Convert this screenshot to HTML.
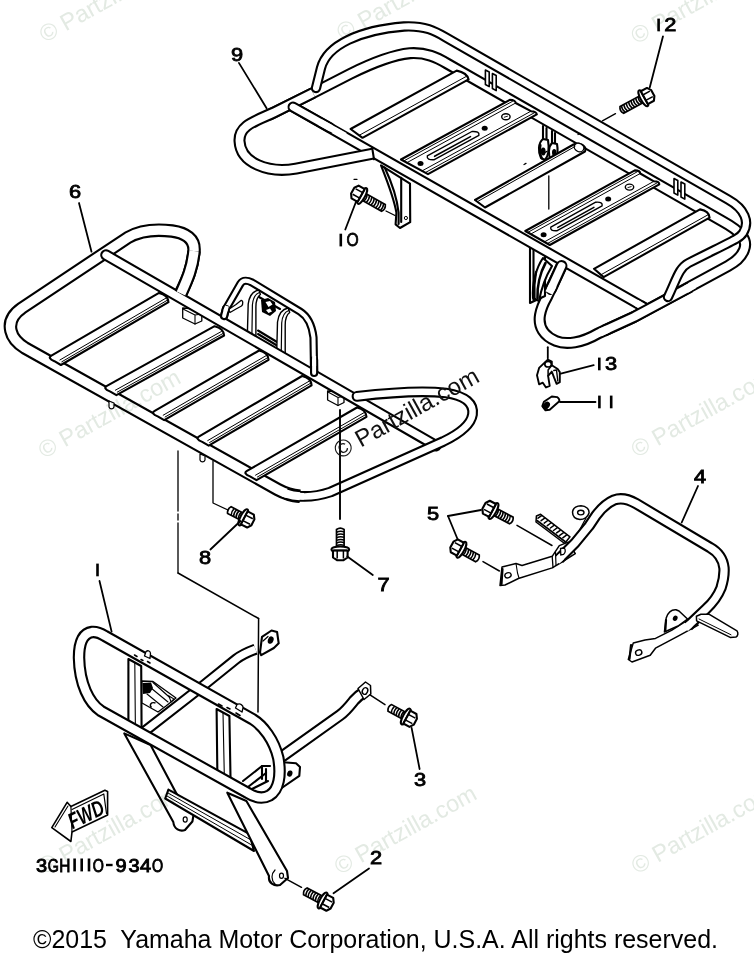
<!DOCTYPE html>
<html><head><meta charset="utf-8"><title>Carrier</title>
<style>
html,body{margin:0;padding:0;background:#fff;}
body{width:754px;height:957px;overflow:hidden;font-family:"Liberation Sans",sans-serif;}
svg{display:block;position:absolute;left:0;top:0;}
text{font-family:"Liberation Sans",sans-serif;}
</style></head><body>
<svg width="754" height="957" viewBox="0 0 754 957">
<rect width="754" height="957" fill="#fff"/>
<path d="M 270,114.5 L 313,93 L 350,74 C 372,63 392,55 410,53.2 C 426,52.2 437,57.5 447,63.5 L 722,221 C 742,232 748,240 744,250 C 741,258 735,262 728,266 L 634,317 L 598,333.5 C 582,343 566,345 556,341 C 544,336 538,327 540,315 C 541,309 543,304 547,297 L 561.5,266" fill="none" stroke="#000" stroke-width="12" stroke-linecap="round" stroke-linejoin="round"/>
<path d="M 270,114.5 L 313,93 L 350,74 C 372,63 392,55 410,53.2 C 426,52.2 437,57.5 447,63.5 L 722,221 C 742,232 748,240 744,250 C 741,258 735,262 728,266 L 634,317 L 598,333.5 C 582,343 566,345 556,341 C 544,336 538,327 540,315 C 541,309 543,304 547,297 L 561.5,266" fill="none" stroke="#fff" stroke-width="7.8" stroke-linecap="round" stroke-linejoin="round"/>
<path d="M 381,165.3 C 388,183 394,198 396.4,212.7 L 395.6,224.4 L 400,228 L 410.2,222.2 L 410,183.6 Z" fill="#fff" stroke="#000" stroke-width="2.1" stroke-linejoin="round"/>
<path d="M 384.7,167.5 C 392,183 397,198 398.6,212.7 L 398.6,224" fill="none" stroke="#000" stroke-width="2.1" stroke-linecap="round" stroke-linejoin="round" />
<path d="M 401.2,177.7 L 401.2,222" fill="none" stroke="#000" stroke-width="2.1" stroke-linecap="round" stroke-linejoin="round" />
<circle cx="405.9" cy="218" r="1.6" fill="none" stroke="#000" stroke-width="1"/>
<path d="M 530,246 L 530,303 L 545,296 L 545,255 Z" fill="#fff" stroke="#000" stroke-width="2.1" stroke-linejoin="round"/>
<path d="M 533.5,248 L 533.5,300" fill="none" stroke="#000" stroke-width="2.1" stroke-linecap="round" stroke-linejoin="round" />
<path d="M 543,258 C 536,268 532,284 533,298 L 539,301 C 541,290 546,276 552,266 Z" fill="#fff" stroke="#000" stroke-width="2.1" stroke-linejoin="round"/>
<path d="M 545.5,263 C 540,273 537,287 537.5,298" fill="none" stroke="#000" stroke-width="2.6" stroke-linecap="round" stroke-linejoin="round" />
<path d="M 536,272 C 534.5,280 534,290 534.5,298" fill="none" stroke="#000" stroke-width="2.2" stroke-linecap="round" stroke-linejoin="round" />
<path d="M 543,126 L 543,140" fill="none" stroke="#000" stroke-width="2.1" stroke-linecap="round" stroke-linejoin="round" />
<path d="M 546.5,128 L 546.5,140" fill="none" stroke="#000" stroke-width="2.1" stroke-linecap="round" stroke-linejoin="round" />
<path d="M 552,131 L 552,144" fill="none" stroke="#000" stroke-width="2.1" stroke-linecap="round" stroke-linejoin="round" />
<path d="M 555,133 L 555,144" fill="none" stroke="#000" stroke-width="2.1" stroke-linecap="round" stroke-linejoin="round" />
<path d="M 543,139 C 538,143 538,152 541,158 L 545,160 C 549,155 549,146 548,140 Z" fill="#fff" stroke="#000" stroke-width="2.1" stroke-linejoin="round"/>
<path d="M 552,143 C 548,147 548,155 551,160 L 555,161 C 558,157 558,149 557,144 Z" fill="#fff" stroke="#000" stroke-width="2.1" stroke-linejoin="round"/>
<ellipse cx="543.2" cy="151.5" rx="2.4" ry="4" fill="#000"/>
<ellipse cx="554.2" cy="152.5" rx="2.2" ry="3.6" fill="#000"/>
<path d="M 540.5,145 C 539.5,150 540,155 542,158.5" fill="none" stroke="#000" stroke-width="2.2" stroke-linecap="round" stroke-linejoin="round" />
<path d="M 485.4,70 L 485.4,84.5 L 489.2,86.6 L 489.2,72 Z" fill="#fff" stroke="#000" stroke-width="1.6" stroke-linejoin="round"/>
<path d="M 492.4,73.5 L 492.4,88.5 L 496.2,90.6 L 496.2,75.5 Z" fill="#fff" stroke="#000" stroke-width="1.6" stroke-linejoin="round"/>
<path d="M 674,178.5 L 674,193.0 L 677.8,195.1 L 677.8,180.5 Z" fill="#fff" stroke="#000" stroke-width="1.6" stroke-linejoin="round"/>
<path d="M 681,182.0 L 681,197.0 L 684.8,199.1 L 684.8,184.0 Z" fill="#fff" stroke="#000" stroke-width="1.6" stroke-linejoin="round"/>
<path d="M 456.7,70.6 L 350.6,129.0 L 362.5,137.8 L 468.6,79.4 Q 467.0,72.6 456.7,70.6 Z" fill="#fff" stroke="#000" stroke-width="2.1" stroke-linejoin="round"/>
<path d="M 466.3,76.4 L 359.2,135.3" fill="none" stroke="#000" stroke-width="1.0" stroke-linecap="round" stroke-linejoin="round" />
<path d="M 509.8,99.8 L 401.0,159.5 L 428.0,174.1 L 536.8,114.4 Q 536.5,111.4 530.9,111.2 L 515.7,103.0 Q 515.4,100.0 509.8,99.8 Z" fill="#fff" stroke="#000" stroke-width="2.1" stroke-linejoin="round"/>
<path d="M 512.5,101.3 L 403.7,161.0" fill="none" stroke="#000" stroke-width="1.0" stroke-linecap="round" stroke-linejoin="round" />
<path d="M 515.7,103.0 L 406.9,162.7" fill="none" stroke="#000" stroke-width="1.0" stroke-linecap="round" stroke-linejoin="round" />
<path d="M 530.9,111.2 L 422.1,170.9" fill="none" stroke="#000" stroke-width="1.0" stroke-linecap="round" stroke-linejoin="round" />
<path d="M 534.1,112.9 L 425.3,172.6" fill="none" stroke="#000" stroke-width="1.0" stroke-linecap="round" stroke-linejoin="round" />
<path d="M 427.3,155.9 L 471.9,131.5 Q 479.8,131.0 478.9,135.3 L 434.3,159.7 Q 426.4,160.3 427.3,155.9 Z" fill="#fff" stroke="#000" stroke-width="1.4" stroke-linejoin="round"/>
<path d="M 434.6,156.3 L 470.5,136.6" fill="none" stroke="#000" stroke-width="1.6" stroke-linecap="round" stroke-linejoin="round" />
<ellipse cx="420.5" cy="163.5" rx="3" ry="2.5" fill="#000"/>
<ellipse cx="484.7" cy="128.3" rx="3" ry="2.5" fill="#000"/>
<ellipse cx="505.9" cy="116.7" rx="4.2" ry="3" fill="#fff" stroke="#000" stroke-width="1.4"/>
<path d="M 503.9,117.3 L 507.9,116.1" stroke="#000" stroke-width="0.9"/>
<path d="M 573.5,144.5 L 475,200 L 485,207.5 L 585,151.5 C 587,146 580,141.5 573.5,144.5 Z" fill="#fff" stroke="#000" stroke-width="2.1" stroke-linejoin="round"/>
<ellipse cx="579" cy="147.5" rx="5" ry="4" fill="#fff" stroke="#000" stroke-width="1.3" transform="rotate(30 579 147.5)"/>
<path d="M 575,146.5 L 478.5,201" fill="none" stroke="#000" stroke-width="1" stroke-linecap="round" stroke-linejoin="round" />
<path d="M 634.8,170.4 L 525.3,231.0 L 549.8,245.0 L 659.3,184.4 Q 659.2,181.4 653.9,181.3 L 640.2,173.5 Q 640.1,170.5 634.8,170.4 Z" fill="#fff" stroke="#000" stroke-width="2.1" stroke-linejoin="round"/>
<path d="M 637.2,171.8 L 527.8,232.4" fill="none" stroke="#000" stroke-width="1.0" stroke-linecap="round" stroke-linejoin="round" />
<path d="M 640.2,173.5 L 530.7,234.1" fill="none" stroke="#000" stroke-width="1.0" stroke-linecap="round" stroke-linejoin="round" />
<path d="M 653.9,181.3 L 544.4,241.9" fill="none" stroke="#000" stroke-width="1.0" stroke-linecap="round" stroke-linejoin="round" />
<path d="M 656.8,183.0 L 547.3,243.6" fill="none" stroke="#000" stroke-width="1.0" stroke-linecap="round" stroke-linejoin="round" />
<path d="M 550.8,227.1 L 595.7,202.2 Q 603.2,201.6 602.1,205.9 L 557.2,230.7 Q 549.6,231.3 550.8,227.1 Z" fill="#fff" stroke="#000" stroke-width="1.4" stroke-linejoin="round"/>
<path d="M 557.8,227.4 L 593.9,207.4" fill="none" stroke="#000" stroke-width="1.6" stroke-linecap="round" stroke-linejoin="round" />
<ellipse cx="543.6" cy="234.7" rx="3" ry="2.5" fill="#000"/>
<ellipse cx="608.2" cy="198.9" rx="3" ry="2.5" fill="#000"/>
<ellipse cx="629.5" cy="187.1" rx="4.2" ry="3" fill="#fff" stroke="#000" stroke-width="1.4"/>
<path d="M 627.5,187.7 L 631.5,186.5" stroke="#000" stroke-width="0.9"/>
<path d="M 700.0,209.4 L 594.0,268.8 L 603.6,277.1 L 709.6,217.7 Q 709.2,211.1 700.0,209.4 Z" fill="#fff" stroke="#000" stroke-width="2.1" stroke-linejoin="round"/>
<path d="M 708.0,214.8 L 600.9,274.8" fill="none" stroke="#000" stroke-width="1.0" stroke-linecap="round" stroke-linejoin="round" />
<path d="M 293,107 L 646,308.5" fill="none" stroke="#000" stroke-width="11" stroke-linecap="round" stroke-linejoin="round"/>
<path d="M 293,107 L 646,308.5" fill="none" stroke="#fff" stroke-width="6.8" stroke-linecap="round" stroke-linejoin="round"/>
<path d="M 640,305.1 L 651,311.4" fill="none" stroke="#000" stroke-width="11" stroke-linecap="butt" stroke-linejoin="round"/>
<path d="M 640,305.1 L 651,311.4" fill="none" stroke="#fff" stroke-width="6.8" stroke-linecap="butt" stroke-linejoin="round"/>
<path d="M 636,302.8 L 644,307.4" fill="none" stroke="#fff" stroke-width="6.8"/>
<path d="M 690,287 L 634,317 L 604,330.8" fill="none" stroke="#000" stroke-width="12" stroke-linecap="butt" stroke-linejoin="round"/>
<path d="M 690,287 L 634,317 L 604,330.8" fill="none" stroke="#fff" stroke-width="7.8" stroke-linecap="butt" stroke-linejoin="round"/>
<path d="M 694,284.9 L 686,289.2" fill="none" stroke="#fff" stroke-width="7.8"/>
<path d="M 608,329 L 600,332.6" fill="none" stroke="#fff" stroke-width="7.8"/>
<path d="M 373,153.6 L 296,168.6 C 268,173.5 240.5,163 239.5,141 C 238.8,125 256,121 275,112 L 313,93" fill="none" stroke="#000" stroke-width="12" stroke-linecap="butt" stroke-linejoin="round"/>
<path d="M 373,153.6 L 296,168.6 C 268,173.5 240.5,163 239.5,141 C 238.8,125 256,121 275,112 L 313,93" fill="none" stroke="#fff" stroke-width="7.8" stroke-linecap="butt" stroke-linejoin="round"/>
<path d="M 372.2,147.9 L 374,159.3" fill="none" stroke="#000" stroke-width="2.1" stroke-linecap="round" stroke-linejoin="round" />
<path d="M 293,107 L 330,127.7" fill="none" stroke="#000" stroke-width="11" stroke-linecap="round" stroke-linejoin="round"/>
<path d="M 293,107 L 330,127.7" fill="none" stroke="#fff" stroke-width="6.8" stroke-linecap="round" stroke-linejoin="round"/>
<path d="M 320,122.1 L 345,136" fill="none" stroke="#fff" stroke-width="6.8" />
<path d="M 316,88 L 321,68 C 327,45 360,30 404,26.5 C 425,25.5 435,31 446,37.5 L 728,199.5 C 745,209 750,222 743,233 C 740,238 736,239 688.5,263 C 679,268 677,278 668,297" fill="none" stroke="#000" stroke-width="10.3" stroke-linecap="round" stroke-linejoin="round"/>
<path d="M 316,88 L 321,68 C 327,45 360,30 404,26.5 C 425,25.5 435,31 446,37.5 L 728,199.5 C 745,209 750,222 743,233 C 740,238 736,239 688.5,263 C 679,268 677,278 668,297" fill="none" stroke="#fff" stroke-width="6.1000000000000005" stroke-linecap="round" stroke-linejoin="round"/>
<path d="M 551,289 L 561.5,266" fill="none" stroke="#000" stroke-width="12" stroke-linecap="round" stroke-linejoin="round"/>
<path d="M 551,289 L 561.5,266" fill="none" stroke="#fff" stroke-width="7.8" stroke-linecap="round" stroke-linejoin="round"/>
<path d="M 549,293 L 553,285" fill="none" stroke="#fff" stroke-width="7.8" />
<path d="M 548.8,176 L 548.8,209" fill="none" stroke="#000" stroke-width="1.3" stroke-linecap="round" stroke-linejoin="round" />
<path d="M 181,292.5 C 187,280 192.5,268 194,251 C 195,239 186,233 172,231 C 156,229 140,230.5 128,237.5 L 22,308 C 12,315 9,323 11,331 C 12.5,338 17,343 25,348 L 277.7,489.5 C 285,493.5 292,495.5 300,496.3" fill="none" stroke="#000" stroke-width="13.5" stroke-linecap="butt" stroke-linejoin="round"/>
<path d="M 181,292.5 C 187,280 192.5,268 194,251 C 195,239 186,233 172,231 C 156,229 140,230.5 128,237.5 L 22,308 C 12,315 9,323 11,331 C 12.5,338 17,343 25,348 L 277.7,489.5 C 285,493.5 292,495.5 300,496.3" fill="none" stroke="#fff" stroke-width="9.3" stroke-linecap="butt" stroke-linejoin="round"/>
<path d="M 109,401 L 109,407 C 110,409.5 113,409.5 114,407 L 114,403 Z" fill="#fff" stroke="#000" stroke-width="1.2" stroke-linejoin="round"/>
<path d="M 200,454 L 200,460 C 201,462.5 204,462.5 205,460 L 205,456 Z" fill="#fff" stroke="#000" stroke-width="1.2" stroke-linejoin="round"/>
<path d="M 159.0,292.9 L 51.4,355.7 Q 47.1,358.2 54.4,361.2 L 60.9,365.0 L 168.5,302.2 Q 168.1,295.0 159.0,292.9 Z" fill="#fff" stroke="#000" stroke-width="2.1" stroke-linejoin="round"/>
<path d="M 165.8,298.2 L 59.9,360.0" fill="none" stroke="#000" stroke-width="1.0" stroke-linecap="round" stroke-linejoin="round" />
<path d="M 167.7,300.0 L 61.8,361.8" fill="none" stroke="#000" stroke-width="1.0" stroke-linecap="round" stroke-linejoin="round" />
<path d="M 214.6,326.2 L 106.9,385.9 Q 102.5,388.3 109.9,391.4 L 116.4,395.2 L 224.1,335.5 Q 223.7,328.4 214.6,326.2 Z" fill="#fff" stroke="#000" stroke-width="2.1" stroke-linejoin="round"/>
<path d="M 221.4,331.5 L 115.4,390.2" fill="none" stroke="#000" stroke-width="1.0" stroke-linecap="round" stroke-linejoin="round" />
<path d="M 223.3,333.3 L 117.3,392.1" fill="none" stroke="#000" stroke-width="1.0" stroke-linecap="round" stroke-linejoin="round" />
<path d="M 259.1,350.5 L 154.7,410.9 Q 150.4,413.4 157.7,416.4 L 164.2,420.2 L 268.6,359.8 Q 268.2,352.6 259.1,350.5 Z" fill="#fff" stroke="#000" stroke-width="2.1" stroke-linejoin="round"/>
<path d="M 265.9,355.8 L 163.2,415.2" fill="none" stroke="#000" stroke-width="1.0" stroke-linecap="round" stroke-linejoin="round" />
<path d="M 267.8,357.6 L 165.1,417.0" fill="none" stroke="#000" stroke-width="1.0" stroke-linecap="round" stroke-linejoin="round" />
<path d="M 302.1,376.0 L 199.2,436.4 Q 194.9,438.9 202.2,441.9 L 208.7,445.7 L 311.6,385.3 Q 311.2,378.1 302.1,376.0 Z" fill="#fff" stroke="#000" stroke-width="2.1" stroke-linejoin="round"/>
<path d="M 308.9,381.3 L 207.7,440.6" fill="none" stroke="#000" stroke-width="1.0" stroke-linecap="round" stroke-linejoin="round" />
<path d="M 310.8,383.1 L 209.6,442.5" fill="none" stroke="#000" stroke-width="1.0" stroke-linecap="round" stroke-linejoin="round" />
<path d="M 357.0,407.5 L 247.0,470.9 Q 242.7,473.4 250.0,476.4 L 256.5,480.2 L 366.5,416.8 Q 366.1,409.7 357.0,407.5 Z" fill="#fff" stroke="#000" stroke-width="2.1" stroke-linejoin="round"/>
<path d="M 363.8,412.8 L 255.5,475.2" fill="none" stroke="#000" stroke-width="1.0" stroke-linecap="round" stroke-linejoin="round" />
<path d="M 365.7,414.6 L 257.4,477.0" fill="none" stroke="#000" stroke-width="1.0" stroke-linecap="round" stroke-linejoin="round" />
<path d="M 182.7,308 L 182.7,318 L 195,324 L 201.8,321 L 201.8,314 L 190,308.5 Z" fill="#fff" stroke="#000" stroke-width="1.3" stroke-linejoin="round"/>
<path d="M 195,315 L 195,324 M 195,315 L 201.8,314 M 195,315 L 183,309" fill="none" stroke="#000" stroke-width="1.1" stroke-linecap="round" stroke-linejoin="round" />
<path d="M 327.6,391 L 327.6,400 L 338,405.5 L 344,402.5 L 344,396 L 334,391.5 Z" fill="#fff" stroke="#000" stroke-width="1.3" stroke-linejoin="round"/>
<path d="M 338,397.5 L 338,405.5 M 338,397.5 L 344,396 M 338,397.5 L 328,392" fill="none" stroke="#000" stroke-width="1.1" stroke-linecap="round" stroke-linejoin="round" />
<path d="M 224.1,316 L 225.9,309 L 240.5,283.6 C 243,279.5 248,280.5 252,282.5 L 300,311.6 C 307,316 312,325 313.5,337.4 L 314.1,373" fill="none" stroke="#000" stroke-width="8.2" stroke-linecap="round" stroke-linejoin="round"/>
<path d="M 224.1,316 L 225.9,309 L 240.5,283.6 C 243,279.5 248,280.5 252,282.5 L 300,311.6 C 307,316 312,325 313.5,337.4 L 314.1,373" fill="none" stroke="#fff" stroke-width="3.999999999999999" stroke-linecap="round" stroke-linejoin="round"/>
<path d="M 258,334 L 277,345.5" fill="none" stroke="#000" stroke-width="2.1" stroke-linecap="round" stroke-linejoin="round" />
<path d="M 258,330.5 L 277,342" fill="none" stroke="#000" stroke-width="2.1" stroke-linecap="round" stroke-linejoin="round" />
<path d="M 259,297 L 280,309" fill="none" stroke="#000" stroke-width="2.1" stroke-linecap="round" stroke-linejoin="round" />
<path d="M 228.5,309.5 L 236,304.5 L 241,300.5 C 243,300 243.5,304 241.5,306 L 236,309 L 230,312.5 Z" fill="#fff" stroke="#000" stroke-width="1.3" stroke-linejoin="round"/>
<path d="M 247.4,333 L 248.20000000000002,304 C 249.4,295 253.4,291 258.9,290 L 260.4,294.5 C 256.9,297 255.9,301 255.9,307 L 255.9,338 Z" fill="#fff" stroke="#000" stroke-width="1.4" stroke-linejoin="round"/>
<path d="M 251.9,335.5 L 252.4,305 C 252.9,298 255.4,294 259.4,292.5" fill="none" stroke="#000" stroke-width="1.2" stroke-linecap="round" stroke-linejoin="round" />
<path d="M 276.7,353 L 277.5,322 C 278.7,313 282.7,309 288.2,308 L 289.7,312.5 C 286.2,315 285.2,319 285.2,325 L 285.2,358 Z" fill="#fff" stroke="#000" stroke-width="1.4" stroke-linejoin="round"/>
<path d="M 281.2,355.5 L 281.7,323 C 282.2,316 284.7,312 288.7,310.5" fill="none" stroke="#000" stroke-width="1.2" stroke-linecap="round" stroke-linejoin="round" />
<path d="M 261,300 L 268,298 L 275,302 L 276,311 L 270,316 L 262,312 Z" fill="#000"/>
<path d="M 265.5,302 L 270,301 L 272.5,304.5 L 268.5,307 Z M 266,310 L 270,308.5 L 272,311.5 L 268.5,313 Z" fill="#fff"/>
<path d="M 106,255 L 436,445.7" fill="none" stroke="#000" stroke-width="11.5" stroke-linecap="round" stroke-linejoin="round"/>
<path d="M 106,255 L 436,445.7" fill="none" stroke="#fff" stroke-width="7.3" stroke-linecap="round" stroke-linejoin="round"/>
<path d="M 300,496.3 C 310,497 320,495.5 330.5,492 L 443.2,441.5 C 462,432.5 471,424 472.5,414.5 C 474,404 466,396 446,393 C 420,390 390,392.5 357,396.4" fill="none" stroke="#000" stroke-width="10.8" stroke-linecap="round" stroke-linejoin="round"/>
<path d="M 300,496.3 C 310,497 320,495.5 330.5,492 L 443.2,441.5 C 462,432.5 471,424 472.5,414.5 C 474,404 466,396 446,393 C 420,390 390,392.5 357,396.4" fill="none" stroke="#fff" stroke-width="6.6000000000000005" stroke-linecap="round" stroke-linejoin="round"/>
<path d="M 286,493.6 C 291,495.2 295,496 300,496.3" fill="none" stroke="#000" stroke-width="12.2" stroke-linecap="butt" stroke-linejoin="round"/>
<path d="M 286,493.6 C 291,495.2 295,496 300,496.3" fill="none" stroke="#fff" stroke-width="7.999999999999999" stroke-linecap="butt" stroke-linejoin="round"/>
<path d="M 283,492.6 L 288,494.3" fill="none" stroke="#fff" stroke-width="8" />
<path d="M 297,496.1 L 304,496.2" fill="none" stroke="#fff" stroke-width="6.6" />
<path d="M 181,293.5 C 187,280 192.5,268 194,251" fill="none" stroke="#000" stroke-width="13.5" stroke-linecap="butt" stroke-linejoin="round"/>
<path d="M 181,293.5 C 187,280 192.5,268 194,251" fill="none" stroke="#fff" stroke-width="9.3" stroke-linecap="butt" stroke-linejoin="round"/>
<path d="M 314.1,360 L 314.1,373" fill="none" stroke="#000" stroke-width="8.2" stroke-linecap="round" stroke-linejoin="round"/>
<path d="M 314.1,360 L 314.1,373" fill="none" stroke="#fff" stroke-width="3.999999999999999" stroke-linecap="round" stroke-linejoin="round"/>
<path d="M 314.1,356 L 314.1,366" fill="none" stroke="#fff" stroke-width="4" />
<path d="M 224.1,316 L 225.9,309" fill="none" stroke="#000" stroke-width="8.2" stroke-linecap="round" stroke-linejoin="round"/>
<path d="M 224.1,316 L 225.9,309" fill="none" stroke="#fff" stroke-width="3.999999999999999" stroke-linecap="round" stroke-linejoin="round"/>
<path d="M 225.4,311 L 227,306" fill="none" stroke="#fff" stroke-width="4" />
<path d="M 136,738 L 203.5,685.4 L 236,659.2 C 242,654.5 248,652 255.5,649.2" fill="none" stroke="#000" stroke-width="11.3" stroke-linecap="butt" stroke-linejoin="round"/>
<path d="M 136,738 L 203.5,685.4 L 236,659.2 C 242,654.5 248,652 255.5,649.2" fill="none" stroke="#fff" stroke-width="7.1000000000000005" stroke-linecap="butt" stroke-linejoin="round"/>
<path d="M 260,652.5 L 262,636.9 L 271.5,630.5 L 277.1,632.1 L 278.7,643.3 L 273.9,648 L 261.2,655.2 Z" fill="#fff" stroke="#000" stroke-width="2.1" stroke-linejoin="round"/>
<ellipse cx="270.7" cy="640.1" rx="2.8" ry="3.8" fill="#000" transform="rotate(20 270.7 640.1)"/>
<path d="M 263,641 L 268,636.5" fill="none" stroke="#000" stroke-width="1.2" stroke-linecap="round" stroke-linejoin="round" />
<path d="M 282,756.5 L 340,715.2 C 346,710.8 350,705.5 354,700.5 C 357,697 360,694.5 365,691.5" fill="none" stroke="#000" stroke-width="12" stroke-linecap="butt" stroke-linejoin="round"/>
<path d="M 282,756.5 L 340,715.2 C 346,710.8 350,705.5 354,700.5 C 357,697 360,694.5 365,691.5" fill="none" stroke="#fff" stroke-width="7.8" stroke-linecap="butt" stroke-linejoin="round"/>
<path d="M 358,688.5 L 365.5,682 L 370.5,685.5 L 370.8,694 L 364,699.5 Z" fill="#fff" stroke="#000" stroke-width="1.5" stroke-linejoin="round"/>
<ellipse cx="365" cy="691" rx="2.6" ry="3.4" fill="#fff" stroke="#000" stroke-width="1.4" transform="rotate(25 365 691)"/>
<path d="M 280,762 L 296,763.3 L 300,767 L 299.3,775.8 L 281,788.5 Z" fill="#fff" stroke="#000" stroke-width="2.1" stroke-linejoin="round"/>
<ellipse cx="289.8" cy="773.6" rx="2.6" ry="3.2" fill="#000" transform="rotate(20 289.8 773.6)"/>
<path d="M 243,781 L 262,766 L 270,766" fill="none" stroke="#000" stroke-width="2.1" stroke-linecap="round" stroke-linejoin="round" />
<path d="M 248,787 L 266,773" fill="none" stroke="#000" stroke-width="2.1" stroke-linecap="round" stroke-linejoin="round" />
<path d="M 262,766 L 262,779" fill="none" stroke="#000" stroke-width="2.1" stroke-linecap="round" stroke-linejoin="round" />
<path d="M 266,769 L 266,781" fill="none" stroke="#000" stroke-width="2.1" stroke-linecap="round" stroke-linejoin="round" />
<path d="M 250,790 L 268,781" fill="none" stroke="#000" stroke-width="2.1" stroke-linecap="round" stroke-linejoin="round" />
<path d="M 124.3,733.4 L 173.3,822 C 174,829 180,832 185,830 L 192.4,821.5 L 193.6,814.5 L 176.8,794.2 L 150.6,745 Z" fill="#fff" stroke="#000" stroke-width="2.1" stroke-linejoin="round"/>
<ellipse cx="185.2" cy="819.5" rx="2" ry="2.6" fill="none" stroke="#000" stroke-width="1.2"/>
<path d="M 168.4,789.6 L 249.6,834.1 L 254,851 L 165.2,798.5 Z" fill="#fff" stroke="#000" stroke-width="2.1" stroke-linejoin="round"/>
<path d="M 168,793 L 251,840" fill="none" stroke="#000" stroke-width="1" stroke-linecap="round" stroke-linejoin="round" />
<path d="M 167,796 L 252.5,845.5" fill="none" stroke="#000" stroke-width="1" stroke-linecap="round" stroke-linejoin="round" />
<path d="M 227.3,792.7 L 269,876 C 268,883 274,886.5 280,885 L 288,878 L 287,871 L 246.4,801 Z" fill="#fff" stroke="#000" stroke-width="2.1" stroke-linejoin="round"/>
<ellipse cx="281.5" cy="875.7" rx="2" ry="2.6" fill="none" stroke="#000" stroke-width="1.2"/>
<path d="M 275,884 C 271,880 271,874 275,870" fill="none" stroke="#000" stroke-width="1.2" stroke-linecap="round" stroke-linejoin="round" />
<path d="M 128.4,659 L 141.20000000000002,666 L 141.6,732 L 128.4,726 Z" fill="#fff" stroke="#000" stroke-width="2.1" stroke-linejoin="round"/>
<path d="M 134.8,662.5 L 135.4,729.2" fill="none" stroke="#000" stroke-width="1.1" stroke-linecap="round" stroke-linejoin="round" />
<path d="M 216.6,709 L 229.4,716 L 230.6,783 L 217.4,777 Z" fill="#fff" stroke="#000" stroke-width="2.1" stroke-linejoin="round"/>
<path d="M 223.0,712.5 L 224.4,780.2" fill="none" stroke="#000" stroke-width="1.1" stroke-linecap="round" stroke-linejoin="round" />
<path d="M 142,681 L 153,681.5 L 176,698 L 166,706 L 158,712 L 142,703 Z" fill="#fff" stroke="#000" stroke-width="1.3" stroke-linejoin="round"/>
<path d="M 142.5,683 L 151,682.5 L 153,688 L 150,693 L 143,694 Z" fill="#000"/>
<path d="M 153,682.5 L 172,699.5" fill="none" stroke="#000" stroke-width="1.2" stroke-linecap="round" stroke-linejoin="round" />
<path d="M 151,688 L 168,702" fill="none" stroke="#000" stroke-width="1.1" stroke-linecap="round" stroke-linejoin="round" />
<path d="M 147,694 L 163,707" fill="none" stroke="#000" stroke-width="1.1" stroke-linecap="round" stroke-linejoin="round" />
<path d="M 155.5,703 C 151,701.5 149,705 151.5,707.5" fill="none" stroke="#000" stroke-width="1.4"/>
<path d="M 169,696 L 174,699 L 171,702 Z" fill="#fff" stroke="#000" stroke-width="1.1"/>
<path d="M 79,657.7 C 79,644 82,633.5 92,632 C 97,631.5 101,633.5 105,636 L 252.6,719.2 C 263,725.5 274,740 278.3,758 C 281.3,775 279,790 269.5,795.5 C 261,800 253,796.3 247.8,793 L 101,711 C 89,703 79.5,684 79,657.7 Z" fill="none" stroke="#000" stroke-width="12.5" stroke-linecap="butt" stroke-linejoin="round"/>
<path d="M 79,657.7 C 79,644 82,633.5 92,632 C 97,631.5 101,633.5 105,636 L 252.6,719.2 C 263,725.5 274,740 278.3,758 C 281.3,775 279,790 269.5,795.5 C 261,800 253,796.3 247.8,793 L 101,711 C 89,703 79.5,684 79,657.7 Z" fill="none" stroke="#fff" stroke-width="8.3" stroke-linecap="butt" stroke-linejoin="round"/>
<path d="M 144.5,656 L 146,651.5 C 148,650 150.5,651 150.5,653.5 L 150,658.5 Z" fill="#fff" stroke="#000" stroke-width="1.3" stroke-linejoin="round"/>
<path d="M 134.5,655 L 137,656.5 M 141,659.5 L 143,660.5 M 147.5,661.5 L 150,663" fill="none" stroke="#000" stroke-width="1.5" stroke-linecap="round" stroke-linejoin="round" />
<path d="M 235.5,708 L 237,704.5 C 240,703 243.5,705 243,708 L 242,712 Z" fill="#fff" stroke="#000" stroke-width="1.3" stroke-linejoin="round"/>
<path d="M 218.5,704 L 222,706 M 227,707.5 L 230,709 M 236,713 L 240,715.5" fill="none" stroke="#000" stroke-width="1.6" stroke-linecap="round" stroke-linejoin="round" />
<path d="M 536.4,516 L 540.6,514.3 L 570,536.8 L 564.6,543.5 L 536,522 Z" fill="#fff" stroke="#000" stroke-width="1.5" stroke-linejoin="round"/>
<path d="M 538.0,518.2 L 541.6,515.6" fill="none" stroke="#000" stroke-width="1.5" stroke-linecap="round" stroke-linejoin="round" />
<path d="M 541.1,520.7 L 544.7,518.1" fill="none" stroke="#000" stroke-width="1.5" stroke-linecap="round" stroke-linejoin="round" />
<path d="M 544.2,523.1 L 547.8,520.5" fill="none" stroke="#000" stroke-width="1.5" stroke-linecap="round" stroke-linejoin="round" />
<path d="M 547.3,525.6 L 550.9,523.0" fill="none" stroke="#000" stroke-width="1.5" stroke-linecap="round" stroke-linejoin="round" />
<path d="M 550.4,528.0 L 554.0,525.4" fill="none" stroke="#000" stroke-width="1.5" stroke-linecap="round" stroke-linejoin="round" />
<path d="M 553.5,530.5 L 557.1,527.9" fill="none" stroke="#000" stroke-width="1.5" stroke-linecap="round" stroke-linejoin="round" />
<path d="M 556.6,532.9 L 560.2,530.3" fill="none" stroke="#000" stroke-width="1.5" stroke-linecap="round" stroke-linejoin="round" />
<path d="M 559.7,535.4 L 563.3,532.8" fill="none" stroke="#000" stroke-width="1.5" stroke-linecap="round" stroke-linejoin="round" />
<path d="M 562.8,537.8 L 566.4,535.2" fill="none" stroke="#000" stroke-width="1.5" stroke-linecap="round" stroke-linejoin="round" />
<path d="M 537,520.5 L 565,541.5" fill="none" stroke="#000" stroke-width="1.6" stroke-linecap="round" stroke-linejoin="round" />
<path d="M 572.5,512 C 573,508 577,506 581,505.8 C 586,506 589.5,509 589,513 C 588,517 584,519.5 580,519.5 C 575,519 572.5,516 572.5,512 Z" fill="#fff" stroke="#000" stroke-width="1.5" stroke-linejoin="round"/>
<ellipse cx="580.8" cy="512.6" rx="3.2" ry="2.3" fill="#fff" stroke="#000" stroke-width="1.4"/>
<path d="M 586,518 L 578,533" fill="none" stroke="#000" stroke-width="1.3" stroke-linecap="round" stroke-linejoin="round" />
<path d="M 568.2,542.1 L 559.3,545.6 L 552.2,556.3 L 522,565.5 L 516,563.5 L 502,567 L 500,585.5 L 505,585 L 518.4,578.5 L 552.2,567.9 L 561.1,562.5 L 575.3,553.6 Z" fill="#fff" stroke="#000" stroke-width="1.5" stroke-linejoin="round"/>
<path d="M 686,621 L 671.5,630.4 L 655.5,638.4 L 645,640 L 633.3,642.9 L 628.3,659.5 L 632,662 L 650.2,655.3 L 655.5,648.2 L 678.6,635.8 L 698.2,625.1 Z" fill="#fff" stroke="#000" stroke-width="1.5" stroke-linejoin="round"/>
<path d="M 559,559 L 575,543 L 589,526 L 596,515.5 C 602,507.5 607,503 614,500 C 622,497 629,499.5 636,503.5 L 710,547.5 C 718,552 723,559 724,568 C 724.5,576 723,582 721,588 C 717,598 712,603.5 706,609 L 688,626" fill="none" stroke="#000" stroke-width="11.4" stroke-linecap="butt" stroke-linejoin="round"/>
<path d="M 559,559 L 575,543 L 589,526 L 596,515.5 C 602,507.5 607,503 614,500 C 622,497 629,499.5 636,503.5 L 710,547.5 C 718,552 723,559 724,568 C 724.5,576 723,582 721,588 C 717,598 712,603.5 706,609 L 688,626" fill="none" stroke="#fff" stroke-width="7.2" stroke-linecap="butt" stroke-linejoin="round"/>
<path d="M 561.5,556.5 L 557,561" fill="none" stroke="#fff" stroke-width="7.2"/>
<path d="M 690,624 L 685.5,628.3" fill="none" stroke="#fff" stroke-width="7.2"/>
<path d="M 552.2,556.3 L 553,567.5" fill="none" stroke="#000" stroke-width="1.3" stroke-linecap="round" stroke-linejoin="round" />
<path d="M 555.5,552 L 556,565.5" fill="none" stroke="#000" stroke-width="1.2" stroke-linecap="round" stroke-linejoin="round" />
<path d="M 560.5,548.5 L 564,548 C 566,549.5 565.5,553 563.5,554.5 L 560.8,555 Z" fill="#fff" stroke="#000" stroke-width="1.3"/>
<ellipse cx="508" cy="575.3" rx="3.2" ry="2.5" fill="#fff" stroke="#000" stroke-width="1.4" transform="rotate(-20 508 575.3)"/>
<path d="M 516,563.5 L 517.5,573 L 519,578" fill="none" stroke="#000" stroke-width="1.1" stroke-linecap="round" stroke-linejoin="round" />
<path d="M 502.5,569 L 501.5,584" fill="none" stroke="#000" stroke-width="2.2" stroke-linecap="round" stroke-linejoin="round" />
<path d="M 664.4,632 L 666.2,618 C 668,612.5 672,609.5 676,609.8 L 679,611 L 687.5,619 L 678,626 Z" fill="#fff" stroke="#000" stroke-width="1.5" stroke-linejoin="round"/>
<ellipse cx="675.2" cy="618.2" rx="2.3" ry="2.8" fill="#000" transform="rotate(25 675.2 618.2)"/>
<path d="M 666,620 L 665.3,631" fill="none" stroke="#000" stroke-width="2.2" stroke-linecap="round" stroke-linejoin="round" />
<ellipse cx="638.7" cy="652.6" rx="3.2" ry="2.6" fill="#fff" stroke="#000" stroke-width="1.4" transform="rotate(-20 638.7 652.6)"/>
<path d="M 631,645 L 629.5,659" fill="none" stroke="#000" stroke-width="2.2" stroke-linecap="round" stroke-linejoin="round" />
<path d="M 696.4,616.2 L 700.9,614.2 L 708.9,614.2 L 737,630.8 C 738.5,633 738,636 736,637 L 730.2,637.4 L 696.6,620.8 Z" fill="#fff" stroke="#000" stroke-width="1.5" stroke-linejoin="round"/>
<path d="M 699,619 L 731,634.8" fill="none" stroke="#000" stroke-width="1.0" stroke-linecap="round" stroke-linejoin="round" />
<g transform="translate(646.5,96.5) rotate(151.4)"><path d="M 4,-3.8 L 28.1,-3.8 Q 30.8,0 28.1,3.8 L 4,3.8 Z" fill="#fff" stroke="#000" stroke-width="1.7"/><path d="M 7.2,-3.8 Q 9.0,0 7.6,3.8" fill="none" stroke="#000" stroke-width="1.5"/><path d="M 9.9,-3.8 Q 11.7,0 10.3,3.8" fill="none" stroke="#000" stroke-width="1.5"/><path d="M 12.6,-3.8 Q 14.4,0 13.0,3.8" fill="none" stroke="#000" stroke-width="1.5"/><path d="M 15.3,-3.8 Q 17.1,0 15.7,3.8" fill="none" stroke="#000" stroke-width="1.5"/><path d="M 18.0,-3.8 Q 19.8,0 18.4,3.8" fill="none" stroke="#000" stroke-width="1.5"/><path d="M 20.7,-3.8 Q 22.5,0 21.1,3.8" fill="none" stroke="#000" stroke-width="1.5"/><path d="M 23.4,-3.8 Q 25.2,0 23.8,3.8" fill="none" stroke="#000" stroke-width="1.5"/><path d="M 26.1,-3.8 Q 27.9,0 26.5,3.8" fill="none" stroke="#000" stroke-width="1.5"/><ellipse cx="3.6" cy="0" rx="2.8" ry="8.9" fill="#fff" stroke="#000" stroke-width="2"/><path d="M 2.5,-7.300000000000001 L -4.5,-7.300000000000001 L -7.2,-3.3 L -7.2,3.3 L -4.5,7.300000000000001 L 2.5,7.300000000000001 Z" fill="#fff" stroke="#000" stroke-width="2.1" stroke-linejoin="round"/><path d="M -5.5,-3.1 L 2.5,-3.1 M -5.5,3.1 L 2.5,3.1" stroke="#000" stroke-width="1.5" fill="none"/><path d="M 2.6,-6.8 L 2.6,6.8" stroke="#000" stroke-width="1.6" fill="none"/></g>
<g transform="translate(359.0,194.2) rotate(29.2)"><path d="M 4,-3.8 L 28.0,-3.8 Q 30.7,0 28.0,3.8 L 4,3.8 Z" fill="#fff" stroke="#000" stroke-width="1.7"/><path d="M 7.2,-3.8 Q 9.0,0 7.6,3.8" fill="none" stroke="#000" stroke-width="1.5"/><path d="M 9.9,-3.8 Q 11.7,0 10.3,3.8" fill="none" stroke="#000" stroke-width="1.5"/><path d="M 12.6,-3.8 Q 14.4,0 13.0,3.8" fill="none" stroke="#000" stroke-width="1.5"/><path d="M 15.3,-3.8 Q 17.1,0 15.7,3.8" fill="none" stroke="#000" stroke-width="1.5"/><path d="M 18.0,-3.8 Q 19.8,0 18.4,3.8" fill="none" stroke="#000" stroke-width="1.5"/><path d="M 20.7,-3.8 Q 22.5,0 21.1,3.8" fill="none" stroke="#000" stroke-width="1.5"/><path d="M 23.4,-3.8 Q 25.2,0 23.8,3.8" fill="none" stroke="#000" stroke-width="1.5"/><path d="M 26.1,-3.8 Q 27.9,0 26.5,3.8" fill="none" stroke="#000" stroke-width="1.5"/><ellipse cx="3.6" cy="0" rx="2.8" ry="8.9" fill="#fff" stroke="#000" stroke-width="2"/><path d="M 2.5,-7.300000000000001 L -4.5,-7.300000000000001 L -7.2,-3.3 L -7.2,3.3 L -4.5,7.300000000000001 L 2.5,7.300000000000001 Z" fill="#fff" stroke="#000" stroke-width="2.1" stroke-linejoin="round"/><path d="M -5.5,-3.1 L 2.5,-3.1 M -5.5,3.1 L 2.5,3.1" stroke="#000" stroke-width="1.5" fill="none"/><path d="M 2.6,-6.8 L 2.6,6.8" stroke="#000" stroke-width="1.6" fill="none"/></g>
<g transform="translate(246.5,519.0) rotate(-152.8)"><path d="M 4,-3.8 L 19.3,-3.8 Q 22.0,0 19.3,3.8 L 4,3.8 Z" fill="#fff" stroke="#000" stroke-width="1.7"/><path d="M 7.2,-3.8 Q 9.0,0 7.6,3.8" fill="none" stroke="#000" stroke-width="1.5"/><path d="M 9.9,-3.8 Q 11.7,0 10.3,3.8" fill="none" stroke="#000" stroke-width="1.5"/><path d="M 12.6,-3.8 Q 14.4,0 13.0,3.8" fill="none" stroke="#000" stroke-width="1.5"/><path d="M 15.3,-3.8 Q 17.1,0 15.7,3.8" fill="none" stroke="#000" stroke-width="1.5"/><ellipse cx="3.6" cy="0" rx="2.8" ry="8.9" fill="#fff" stroke="#000" stroke-width="2"/><path d="M 2.5,-7.300000000000001 L -4.5,-7.300000000000001 L -7.2,-3.3 L -7.2,3.3 L -4.5,7.300000000000001 L 2.5,7.300000000000001 Z" fill="#fff" stroke="#000" stroke-width="2.1" stroke-linejoin="round"/><path d="M -5.5,-3.1 L 2.5,-3.1 M -5.5,3.1 L 2.5,3.1" stroke="#000" stroke-width="1.5" fill="none"/><path d="M 2.6,-6.8 L 2.6,6.8" stroke="#000" stroke-width="1.6" fill="none"/></g>
<g transform="translate(340.3,553.0) rotate(-90.0)"><path d="M 4,-3.8 L 23.5,-3.8 Q 26.2,0 23.5,3.8 L 4,3.8 Z" fill="#fff" stroke="#000" stroke-width="1.7"/><path d="M 7.2,-3.8 Q 9.0,0 7.6,3.8" fill="none" stroke="#000" stroke-width="1.5"/><path d="M 9.9,-3.8 Q 11.7,0 10.3,3.8" fill="none" stroke="#000" stroke-width="1.5"/><path d="M 12.6,-3.8 Q 14.4,0 13.0,3.8" fill="none" stroke="#000" stroke-width="1.5"/><path d="M 15.3,-3.8 Q 17.1,0 15.7,3.8" fill="none" stroke="#000" stroke-width="1.5"/><path d="M 18.0,-3.8 Q 19.8,0 18.4,3.8" fill="none" stroke="#000" stroke-width="1.5"/><path d="M 20.7,-3.8 Q 22.5,0 21.1,3.8" fill="none" stroke="#000" stroke-width="1.5"/><ellipse cx="3.6" cy="0" rx="2.8" ry="8.9" fill="#fff" stroke="#000" stroke-width="2"/><path d="M 2.5,-7.300000000000001 L -4.5,-7.300000000000001 L -7.2,-3.3 L -7.2,3.3 L -4.5,7.300000000000001 L 2.5,7.300000000000001 Z" fill="#fff" stroke="#000" stroke-width="2.1" stroke-linejoin="round"/><path d="M -5.5,-3.1 L 2.5,-3.1 M -5.5,3.1 L 2.5,3.1" stroke="#000" stroke-width="1.5" fill="none"/><path d="M 2.6,-6.8 L 2.6,6.8" stroke="#000" stroke-width="1.6" fill="none"/></g>
<g transform="translate(490.3,509.3) rotate(28.1)"><path d="M 4,-3.8 L 23.8,-3.8 Q 26.5,0 23.8,3.8 L 4,3.8 Z" fill="#fff" stroke="#000" stroke-width="1.7"/><path d="M 7.2,-3.8 Q 9.0,0 7.6,3.8" fill="none" stroke="#000" stroke-width="1.5"/><path d="M 9.9,-3.8 Q 11.7,0 10.3,3.8" fill="none" stroke="#000" stroke-width="1.5"/><path d="M 12.6,-3.8 Q 14.4,0 13.0,3.8" fill="none" stroke="#000" stroke-width="1.5"/><path d="M 15.3,-3.8 Q 17.1,0 15.7,3.8" fill="none" stroke="#000" stroke-width="1.5"/><path d="M 18.0,-3.8 Q 19.8,0 18.4,3.8" fill="none" stroke="#000" stroke-width="1.5"/><path d="M 20.7,-3.8 Q 22.5,0 21.1,3.8" fill="none" stroke="#000" stroke-width="1.5"/><ellipse cx="3.6" cy="0" rx="2.8" ry="8.9" fill="#fff" stroke="#000" stroke-width="2"/><path d="M 2.5,-7.300000000000001 L -4.5,-7.300000000000001 L -7.2,-3.3 L -7.2,3.3 L -4.5,7.300000000000001 L 2.5,7.300000000000001 Z" fill="#fff" stroke="#000" stroke-width="2.1" stroke-linejoin="round"/><path d="M -5.5,-3.1 L 2.5,-3.1 M -5.5,3.1 L 2.5,3.1" stroke="#000" stroke-width="1.5" fill="none"/><path d="M 2.6,-6.8 L 2.6,6.8" stroke="#000" stroke-width="1.6" fill="none"/></g>
<g transform="translate(458.2,548.0) rotate(28.5)"><path d="M 4,-3.8 L 21.9,-3.8 Q 24.6,0 21.9,3.8 L 4,3.8 Z" fill="#fff" stroke="#000" stroke-width="1.7"/><path d="M 7.2,-3.8 Q 9.0,0 7.6,3.8" fill="none" stroke="#000" stroke-width="1.5"/><path d="M 9.9,-3.8 Q 11.7,0 10.3,3.8" fill="none" stroke="#000" stroke-width="1.5"/><path d="M 12.6,-3.8 Q 14.4,0 13.0,3.8" fill="none" stroke="#000" stroke-width="1.5"/><path d="M 15.3,-3.8 Q 17.1,0 15.7,3.8" fill="none" stroke="#000" stroke-width="1.5"/><path d="M 18.0,-3.8 Q 19.8,0 18.4,3.8" fill="none" stroke="#000" stroke-width="1.5"/><ellipse cx="3.6" cy="0" rx="2.8" ry="8.9" fill="#fff" stroke="#000" stroke-width="2"/><path d="M 2.5,-7.300000000000001 L -4.5,-7.300000000000001 L -7.2,-3.3 L -7.2,3.3 L -4.5,7.300000000000001 L 2.5,7.300000000000001 Z" fill="#fff" stroke="#000" stroke-width="2.1" stroke-linejoin="round"/><path d="M -5.5,-3.1 L 2.5,-3.1 M -5.5,3.1 L 2.5,3.1" stroke="#000" stroke-width="1.5" fill="none"/><path d="M 2.6,-6.8 L 2.6,6.8" stroke="#000" stroke-width="1.6" fill="none"/></g>
<g transform="translate(409.0,718.3) rotate(-151.6)"><path d="M 4,-3.8 L 21.8,-3.8 Q 24.5,0 21.8,3.8 L 4,3.8 Z" fill="#fff" stroke="#000" stroke-width="1.7"/><path d="M 7.2,-3.8 Q 9.0,0 7.6,3.8" fill="none" stroke="#000" stroke-width="1.5"/><path d="M 9.9,-3.8 Q 11.7,0 10.3,3.8" fill="none" stroke="#000" stroke-width="1.5"/><path d="M 12.6,-3.8 Q 14.4,0 13.0,3.8" fill="none" stroke="#000" stroke-width="1.5"/><path d="M 15.3,-3.8 Q 17.1,0 15.7,3.8" fill="none" stroke="#000" stroke-width="1.5"/><path d="M 18.0,-3.8 Q 19.8,0 18.4,3.8" fill="none" stroke="#000" stroke-width="1.5"/><ellipse cx="3.6" cy="0" rx="2.8" ry="8.9" fill="#fff" stroke="#000" stroke-width="2"/><path d="M 2.5,-7.300000000000001 L -4.5,-7.300000000000001 L -7.2,-3.3 L -7.2,3.3 L -4.5,7.300000000000001 L 2.5,7.300000000000001 Z" fill="#fff" stroke="#000" stroke-width="2.1" stroke-linejoin="round"/><path d="M -5.5,-3.1 L 2.5,-3.1 M -5.5,3.1 L 2.5,3.1" stroke="#000" stroke-width="1.5" fill="none"/><path d="M 2.6,-6.8 L 2.6,6.8" stroke="#000" stroke-width="1.6" fill="none"/></g>
<g transform="translate(325.8,902.2) rotate(-152.0)"><path d="M 4,-3.8 L 23.2,-3.8 Q 25.9,0 23.2,3.8 L 4,3.8 Z" fill="#fff" stroke="#000" stroke-width="1.7"/><path d="M 7.2,-3.8 Q 9.0,0 7.6,3.8" fill="none" stroke="#000" stroke-width="1.5"/><path d="M 9.9,-3.8 Q 11.7,0 10.3,3.8" fill="none" stroke="#000" stroke-width="1.5"/><path d="M 12.6,-3.8 Q 14.4,0 13.0,3.8" fill="none" stroke="#000" stroke-width="1.5"/><path d="M 15.3,-3.8 Q 17.1,0 15.7,3.8" fill="none" stroke="#000" stroke-width="1.5"/><path d="M 18.0,-3.8 Q 19.8,0 18.4,3.8" fill="none" stroke="#000" stroke-width="1.5"/><path d="M 20.7,-3.8 Q 22.5,0 21.1,3.8" fill="none" stroke="#000" stroke-width="1.5"/><ellipse cx="3.6" cy="0" rx="2.8" ry="8.9" fill="#fff" stroke="#000" stroke-width="2"/><path d="M 2.5,-7.300000000000001 L -4.5,-7.300000000000001 L -7.2,-3.3 L -7.2,3.3 L -4.5,7.300000000000001 L 2.5,7.300000000000001 Z" fill="#fff" stroke="#000" stroke-width="2.1" stroke-linejoin="round"/><path d="M -5.5,-3.1 L 2.5,-3.1 M -5.5,3.1 L 2.5,3.1" stroke="#000" stroke-width="1.5" fill="none"/><path d="M 2.6,-6.8 L 2.6,6.8" stroke="#000" stroke-width="1.6" fill="none"/></g>
<path d="M 547.8,359.6 L 539.1,367.9 L 537,375.3 L 539.1,384.3 L 542.8,382.7 L 546,387.5 L 549.7,385.9 L 548.1,375.8 L 551.8,371.6 L 554,377.4 L 556.6,383.8 L 559.8,382.2 L 559.8,372.1 L 557.7,369 L 551.8,365.2 L 551.8,361.5 Z" fill="#fff" stroke="#000" stroke-width="1.9" stroke-linejoin="round"/>
<ellipse cx="548.1" cy="364.2" rx="3.3" ry="2.8" fill="#fff" stroke="#000" stroke-width="1.7"/>
<path d="M 551.8,365.2 L 548.1,370 L 548.1,375.8" fill="none" stroke="#000" stroke-width="1.5" stroke-linecap="round" stroke-linejoin="round" />
<path d="M 553.8,370.5 L 556.5,370 L 557.8,381" fill="none" stroke="#000" stroke-width="1.4" stroke-linecap="round" stroke-linejoin="round" />
<path d="M 551.8,396.5 L 557.1,397.1 C 559,398.5 559.6,400 559.3,401.3 L 549.7,409.8 L 545.5,410.3 L 542.3,406.1 L 543.9,401.8 Z" fill="#fff" stroke="#000" stroke-width="1.9" stroke-linejoin="round"/>
<ellipse cx="546.3" cy="405.6" rx="3.1" ry="4.4" fill="#000" transform="rotate(38 546.3 405.6)"/>
<path d="M 238.9,62.9 L 266.6,108.2" fill="none" stroke="#000" stroke-width="1.8" stroke-linecap="round" stroke-linejoin="round" />
<path d="M 663,36.3 L 649.8,87.3" fill="none" stroke="#000" stroke-width="1.8" stroke-linecap="round" stroke-linejoin="round" />
<path d="M 345.3,229.5 L 356.3,201" fill="none" stroke="#000" stroke-width="1.8" stroke-linecap="round" stroke-linejoin="round" />
<path d="M 79,203 L 91.5,251.7" fill="none" stroke="#000" stroke-width="1.8" stroke-linecap="round" stroke-linejoin="round" />
<path d="M 560.8,373.7 L 593.7,365.2" fill="none" stroke="#000" stroke-width="1.8" stroke-linecap="round" stroke-linejoin="round" />
<path d="M 560,402 L 595.5,402" fill="none" stroke="#000" stroke-width="1.8" stroke-linecap="round" stroke-linejoin="round" />
<path d="M 698,486 L 681.7,522.5" fill="none" stroke="#000" stroke-width="1.8" stroke-linecap="round" stroke-linejoin="round" />
<path d="M 448,516 L 481,510" fill="none" stroke="#000" stroke-width="1.8" stroke-linecap="round" stroke-linejoin="round" />
<path d="M 448,516 L 457.5,539" fill="none" stroke="#000" stroke-width="1.8" stroke-linecap="round" stroke-linejoin="round" />
<path d="M 210.4,549.5 L 240.5,521" fill="none" stroke="#000" stroke-width="1.8" stroke-linecap="round" stroke-linejoin="round" />
<path d="M 372.8,575 L 347.3,556.4" fill="none" stroke="#000" stroke-width="1.8" stroke-linecap="round" stroke-linejoin="round" />
<path d="M 99.5,581 L 111.6,631.6" fill="none" stroke="#000" stroke-width="1.8" stroke-linecap="round" stroke-linejoin="round" />
<path d="M 411.6,727.8 L 419.6,769" fill="none" stroke="#000" stroke-width="1.8" stroke-linecap="round" stroke-linejoin="round" />
<path d="M 369,868.5 L 333.5,893.2" fill="none" stroke="#000" stroke-width="1.8" stroke-linecap="round" stroke-linejoin="round" />
<path d="M 178,451 L 178,573" fill="none" stroke="#000" stroke-width="1.3" stroke-linecap="round" stroke-linejoin="round" stroke-dasharray="60 3 6 3"/>
<path d="M 178,573 L 258.6,618.5" fill="none" stroke="#000" stroke-width="1.5" stroke-linecap="round" stroke-linejoin="round" />
<path d="M 258.6,618.5 L 258,712" fill="none" stroke="#000" stroke-width="1.5" stroke-linecap="round" stroke-linejoin="round" />
<path d="M 213,461 L 213,503 L 228,510" fill="none" stroke="#000" stroke-width="1.3" stroke-linecap="round" stroke-linejoin="round" />
<path d="M 340,410 L 340,519" fill="none" stroke="#000" stroke-width="1.9" stroke-linecap="round" stroke-linejoin="round" />
<path d="M 547.8,347.2 L 547.8,358.3" fill="none" stroke="#000" stroke-width="1.8" stroke-linecap="round" stroke-linejoin="round" />
<path d="M 602.4,120.9 L 615.5,113.6" fill="none" stroke="#000" stroke-width="1.3" stroke-linecap="round" stroke-linejoin="round" />
<path d="M 578,134.5 L 580,133.4 M 545,152.5 L 547,151.4 M 524,164.5 L 526,163.4" fill="none" stroke="#000" stroke-width="1.3" stroke-linecap="round" stroke-linejoin="round" />
<path d="M 386,211 L 395,215.5" fill="none" stroke="#000" stroke-width="1.3" stroke-linecap="round" stroke-linejoin="round" />
<path d="M 517,525.4 L 552,545.5" fill="none" stroke="#000" stroke-width="1.5" stroke-linecap="round" stroke-linejoin="round" />
<path d="M 483,561.6 L 499.4,571" fill="none" stroke="#000" stroke-width="1.5" stroke-linecap="round" stroke-linejoin="round" />
<path d="M 370,694.8 L 385,704.6" fill="none" stroke="#000" stroke-width="1.5" stroke-linecap="round" stroke-linejoin="round" />
<path d="M 285,878.3 L 301.5,887.3" fill="none" stroke="#000" stroke-width="1.5" stroke-linecap="round" stroke-linejoin="round" />
<path d="M 354,179.3 L 357,179.3" fill="none" stroke="#000" stroke-width="1.3" stroke-linecap="round" stroke-linejoin="round" />
<text x="0" y="0" font-size="17.74" text-anchor="middle" fill="#000" stroke="#000" stroke-width="0.8" transform="translate(237.0,61.4) scale(1.232,1)">9</text>
<rect x="657.3" y="18.6" width="2.6" height="12.7" fill="#000"/>
<text x="0" y="0" font-size="17.74" text-anchor="middle" fill="#000" stroke="#000" stroke-width="0.8" transform="translate(670.4,31.4) scale(1.232,1)">2</text>
<rect x="339.5" y="233.7" width="2.6" height="12.7" fill="#000"/>
<text x="0" y="0" font-size="17.74" text-anchor="middle" fill="#000" stroke="#000" stroke-width="0.8" transform="translate(352.6,246.3) scale(0.881,1)">O</text>
<text x="0" y="0" font-size="17.74" text-anchor="middle" fill="#000" stroke="#000" stroke-width="0.8" transform="translate(75.0,198.3) scale(1.232,1)">6</text>
<rect x="598.0" y="357.6" width="2.6" height="12.7" fill="#000"/>
<text x="0" y="0" font-size="17.74" text-anchor="middle" fill="#000" stroke="#000" stroke-width="0.8" transform="translate(611.1,370.4) scale(1.232,1)">3</text>
<rect x="598.1" y="395.6" width="2.6" height="12.7" fill="#000"/>
<rect x="609.9" y="395.6" width="2.6" height="12.7" fill="#000"/>
<text x="0" y="0" font-size="17.74" text-anchor="middle" fill="#000" stroke="#000" stroke-width="0.8" transform="translate(700.0,483.4) scale(1.232,1)">4</text>
<text x="0" y="0" font-size="17.74" text-anchor="middle" fill="#000" stroke="#000" stroke-width="0.8" transform="translate(433.0,520.4) scale(1.232,1)">5</text>
<text x="0" y="0" font-size="17.74" text-anchor="middle" fill="#000" stroke="#000" stroke-width="0.8" transform="translate(205.0,564.4) scale(1.232,1)">8</text>
<text x="0" y="0" font-size="17.74" text-anchor="middle" fill="#000" stroke="#000" stroke-width="0.8" transform="translate(383.5,590.9) scale(1.232,1)">7</text>
<rect x="96.2" y="563.6" width="2.6" height="12.7" fill="#000"/>
<text x="0" y="0" font-size="17.74" text-anchor="middle" fill="#000" stroke="#000" stroke-width="0.8" transform="translate(420.0,786.4) scale(1.232,1)">3</text>
<text x="0" y="0" font-size="17.74" text-anchor="middle" fill="#000" stroke="#000" stroke-width="0.8" transform="translate(376.0,863.9) scale(1.232,1)">2</text>
<text x="0" y="0" font-size="18.02" text-anchor="middle" fill="#000" stroke="#000" stroke-width="0.9" transform="translate(41.6,871.5) scale(1.110,1)">3</text>
<text x="0" y="0" font-size="18.02" text-anchor="middle" fill="#000" stroke="#000" stroke-width="0.9" transform="translate(53.2,871.5) scale(0.794,1)">G</text>
<text x="0" y="0" font-size="18.02" text-anchor="middle" fill="#000" stroke="#000" stroke-width="0.9" transform="translate(64.8,871.5) scale(0.855,1)">H</text>
<rect x="73.3" y="858.5" width="2.6" height="12.9" fill="#000"/>
<rect x="80.4" y="858.5" width="2.6" height="12.9" fill="#000"/>
<rect x="87.7" y="858.5" width="2.6" height="12.9" fill="#000"/>
<text x="0" y="0" font-size="18.02" text-anchor="middle" fill="#000" stroke="#000" stroke-width="0.9" transform="translate(98.2,871.5) scale(0.794,1)">O</text>
<rect x="106.0" y="863.8" width="6.6" height="2.4" fill="#000"/>
<text x="0" y="0" font-size="18.02" text-anchor="middle" fill="#000" stroke="#000" stroke-width="0.9" transform="translate(121.0,871.5) scale(1.110,1)">9</text>
<text x="0" y="0" font-size="18.02" text-anchor="middle" fill="#000" stroke="#000" stroke-width="0.9" transform="translate(134.0,871.5) scale(1.110,1)">3</text>
<text x="0" y="0" font-size="18.02" text-anchor="middle" fill="#000" stroke="#000" stroke-width="0.9" transform="translate(145.6,871.5) scale(1.110,1)">4</text>
<text x="0" y="0" font-size="18.02" text-anchor="middle" fill="#000" stroke="#000" stroke-width="0.9" transform="translate(157.6,871.5) scale(0.794,1)">O</text>
<path d="M 51.8,827.7 L 67.1,802.3 L 70.9,806.5 L 104.9,790.2 L 107.6,791.5 L 107.6,815 L 72,832 L 70.9,841.5 Z" fill="#fff" stroke="#000" stroke-width="1.6" stroke-linejoin="round"/>
<path d="M 70.9,806.5 L 72,832" fill="none" stroke="#000" stroke-width="1.2" stroke-linecap="round" stroke-linejoin="round" />
<path d="M 72,809.5 L 103.8,794 L 106.5,813.5" fill="none" stroke="#000" stroke-width="1.2" stroke-linecap="round" stroke-linejoin="round" />
<path d="M 55,827 L 68,806" fill="none" stroke="#000" stroke-width="1.1" stroke-linecap="round" stroke-linejoin="round" />
<text x="0" y="0" font-size="20" font-weight="bold" font-style="italic" fill="#000" transform="translate(72.5,829.5) rotate(-26) scale(0.82,1.12)">FWD</text>
<text x="0" y="0" font-size="24" fill="#111" transform="translate(339.5,459.5) rotate(-29)">© Partzilla.com</text>
<text x="33" y="947.5" font-size="25" fill="#000" textLength="685" lengthAdjust="spacingAndGlyphs" xml:space="preserve">©2015  Yamaha Motor Corporation, U.S.A. All rights reserved.</text>
<text x="0" y="0" font-size="23.5" fill="#e3eae3" style="mix-blend-mode:multiply" transform="translate(45,43) rotate(-29)">© Partzilla.com</text>
<text x="0" y="0" font-size="23.5" fill="#e3eae3" style="mix-blend-mode:multiply" transform="translate(342.3,41) rotate(-29)">© Partzilla.com</text>
<text x="0" y="0" font-size="23.5" fill="#e3eae3" style="mix-blend-mode:multiply" transform="translate(636.5,44.5) rotate(-29)">© Partzilla.com</text>
<text x="0" y="0" font-size="23.5" fill="#e3eae3" style="mix-blend-mode:multiply" transform="translate(44,459) rotate(-29)">© Partzilla.com</text>
<text x="0" y="0" font-size="23.5" fill="#e3eae3" style="mix-blend-mode:multiply" transform="translate(636.7,458) rotate(-29)">© Partzilla.com</text>
<text x="0" y="0" font-size="23.5" fill="#e3eae3" style="mix-blend-mode:multiply" transform="translate(44,875) rotate(-29)">© Partzilla.com</text>
<text x="0" y="0" font-size="23.5" fill="#e3eae3" style="mix-blend-mode:multiply" transform="translate(340,875) rotate(-29)">© Partzilla.com</text>
<text x="0" y="0" font-size="23.5" fill="#e3eae3" style="mix-blend-mode:multiply" transform="translate(637,874.5) rotate(-29)">© Partzilla.com</text>
</svg>
</body></html>
